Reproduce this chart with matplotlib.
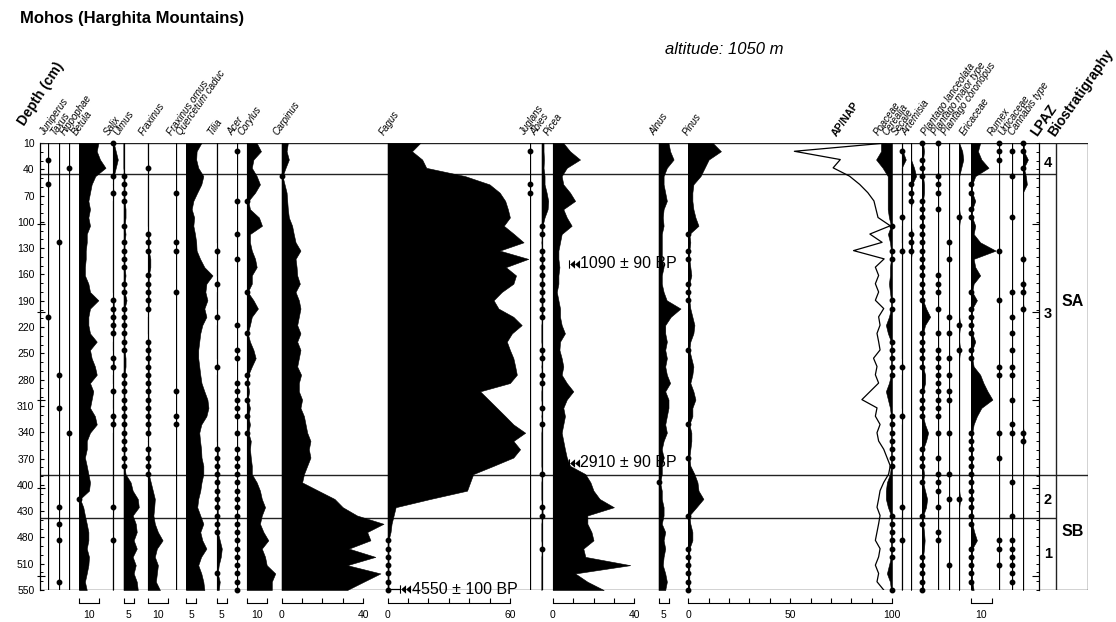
import numpy as np
import matplotlib
matplotlib.use("Agg")
import matplotlib.pyplot as plt
from matplotlib.path import Path

plt.rcParams['font.family'] = ['Liberation Sans', 'DejaVu Sans']

# ---------------- data ----------------
depths = [10, 20, 30, 40, 50, 60, 70, 80, 90, 100, 110, 120, 130, 140, 150, 160, 170, 180,
          190, 200, 210, 220, 230, 240, 250, 260, 270, 280, 290, 300, 310, 320, 330, 340,
          350, 360, 370, 380, 390, 400, 410, 420, 430, 440, 450, 460, 470, 480, 490, 500,
          510, 520, 530, 540, 550]
depth_labels = ['10', '40', '70', '100', '130', '160', '190', '220', '250', '280', '310',
                '340', '370', '400', '430', '480', '510', '550']

betula = [9.5, 8.7, 10.3, 13, 8, 6.2, 5.4, 4.6, 5.4, 4.6,
          5.4, 3.8, 3.8, 3.3, 3.3, 2.9, 2.9, 4.6, 5.4, 9.5,
          5.4, 4.6, 4.6, 5.4, 8.7, 5.4, 6.2, 7.8, 8.7, 5.4,
          7, 6.2, 5.4, 7.8, 8.7, 5.4, 3.8, 3.8, 2.9, 3.8,
          4.6, 5.4, 4.9, 0.5, 2.1, 2.9, 3.8, 4.6, 4.6, 3.8,
          4.9, 4.6, 3.8, 2.9, 3.8]
ulmus = [0, 0, 0, 0, .5, .5, .5, .5, 1, 1,
         .5, 1, .5, .5, .5, .5, 1, .5, .5, 1.5,
         .5, .5, .5, .5, .5, .5, 1, 1, .5, .5,
         .5, .5, .5, .5, .5, .5, .5, .5, .5, .5,
         1, 3.5, 4.5, 7, 7.5, 4.5, 6, 6.5, 5, 6.5,
         4.5, 6, 5, 6.5, 7]
fraxinus = [0, 0, 0, .5, 0, 0, 0, 0, 0, 0,
            0, .5, .5, .5, 1.3, 1.3, .5, .5, .5, .5,
            .5, 0, 0, 0, .5, .5, .5, .5, .5, .5,
            .5, .5, .5, .5, .5, .5, 0, .5, .5, .5,
            .5, 1.5, 2.5, 3.5, 3.2, 2.8, 3.5, 5, 7.3, 4.5,
            3.5, 5, 4.5, 4, 6]
quercetum = [7.5, 5.2, 5, 6, 8.5, 7.5, 5.5, 3.6, 2.8, 4,
             3.6, 4.4, 5, 5.2, 6.9, 9, 13, 10, 9.5, 10.5,
             9, 10, 8, 7, 6.5, 6, 6, 6.5, 7, 7.6,
             9, 10.5, 11, 10, 7.5, 6.5, 6.9, 7.4, 7.6, 8.5,
             8.5, 7.6, 7, 6, 5.5, 7, 8.5, 7, 8, 10,
             7.4, 6, 7.5, 8.5, 9]
corylus = [4.9, 7, 3.3, 2.5, 4.9, 6.5, 4.1, 0.8, 1.6, 6,
           7.5, 1.6, 1.6, 2.5, 4.1, 4.9, 2.5, 2.5, 0.5, 3.3,
           5.5, 2.5, 1.6, 0.5, 1.6, 3.3, 4.4, 2.5, 0.8, 0.5,
           1.2, 0.5, 1.6, 0.8, 1.6, 0.8, 2, 1.6, 2, 2.5,
           2.5, 4.9, 6.5, 7.4, 9, 7.4, 6.5, 8.2, 10.6, 7.4,
           9, 9.8, 14, 12.3, 12.3]
carpinus = [3.1, 2.5, 3.6, 2, 0.5, 1.5, 2.5, 2.8, 3.1, 3.6,
            5.2, 6, 6.9, 9.3, 6.9, 7.4, 7.7, 9, 6.9, 8.5,
            9.3, 8.5, 7.7, 9.3, 7.7, 9.3, 8.5, 7.7, 9.6, 8.5,
            8.5, 10.1, 9.3, 11, 11.8, 12.6, 14.2, 13.4, 14.2, 12.6,
            11, 10.1, 18, 26, 30, 37, 50, 42, 43.6, 33,
            46, 32.2, 48.5, 40.3, 32.2]
fagus = [16, 12, 17, 19, 38, 50, 55, 57.7, 59, 60,
         57, 62, 66.7, 55, 69, 58, 63, 61.7, 56, 52,
         54.4, 61.7, 65.8, 61, 58.5, 60, 61.7, 62.6, 63.4, 60,
         45.4, 49.5, 53.6, 57.7, 61.7, 67.5, 61.7, 65, 61.7, 52,
         42, 40.5, 39, 21, 4, 3, 2, 1.5, 0.5, 0.5,
         0.5, 0.5, 0.5, 0.5, 0.5]
picea = [5.2, 8.5, 13.4, 6.9, 4.4, 5.2, 8.5, 11, 5.2, 6.9,
         9.3, 4.4, 3.6, 2.8, 2.8, 3.3, 2.8, 2.8, 2, 2.8,
         3.6, 3.6, 4.4, 6, 3.6, 3.3, 4.4, 5.2, 4.4, 6.9,
         10.1, 6.9, 5.2, 6, 5.2, 4.4, 5.2, 6, 6.9, 8.5,
         16, 18.5, 20, 23, 30, 17, 17, 19, 20, 15,
         16, 38, 11, 17, 25]
alnus = [4.9, 5.7, 7.4, 4.1, 2.5, 2.5, 3.3, 4.1, 2.5, 2.1,
         2.5, 1.6, 1.6, 1.6, 1.6, 2.5, 1.6, 1.6, 2.5, 4,
         10.8, 6, 3.3, 3.3, 4.1, 3.3, 4.1, 3.3, 4.1, 5.7,
         3.3, 4.9, 4.9, 4.1, 3.3, 4.1, 2.5, 1.6, 2.5, 1.6,
         1.6, 0.8, 1.6, 1.6, 2.5, 2.5, 1.6, 3.3, 2.5, 3.3,
         2.5, 2.1, 3.3, 4.1, 3.3]
pinus = [12, 16, 10, 8, 6, 2.5, 2, 2, 2.5, 3.5,
         5, 0.5, 1, 0.5, 0.5, 1, 1.5, 0.5, 0.5, 0.5,
         1, 2, 3, 2.5, 1, 0.5, 1.5, 2.5, 2, 1,
         2.5, 3.5, 2, 2, 0.5, 1.5, 1.5, 1, 0.5, 1,
         3, 4.5, 5, 7.4, 4, 0.5, 1, 2, 2, 0.5,
         0.5, 0.5, 0.5, 0.5, 0.5]
ap_nap = [97, 52, 74.5, 71, 79, 84, 88, 91, 92, 93,
          99, 89, 95, 81, 96, 91.7, 93.3, 91.7, 93.3, 91.7,
          95.8, 93.3, 94, 92.5, 93.3, 94, 90.8, 92.5, 91.7, 93.3,
          89.2, 85.1, 92.5, 91.7, 94, 92.5, 93.3, 95.8, 97.4, 99,
          98.2, 95.8, 94, 93.3, 92.5, 94, 93.3, 92.5, 91.7, 94,
          93.3, 91.7, 93.3, 92.5, 95.8]
poaceae = [5.4, 5.4, 7.8, 4.6, 2.1, 2.1, 2.1, 2.1, 2.1, 1.5,
           0.5, 2, 1, 0.5, 0.5, 1, 1, 1.5, 1, 0.5,
           0.5, 1.5, 3, 2, 0.5, 0.5, 0.5, 0.5, 0.5, 1.5,
           3, 2, 1, 0.5, 0.5, 0.5, 0.5, 0.5, 0.5, 0.5,
           1, 2.5, 3, 3, 2, 0.5, 0.5, 0.5, 0.5, 0.5,
           0.5, 1.5, 2.5, 1, 0.5]
artemisia = [0.5, 1, 0.5, 0.5, 0.5, 1, 1, 0.5, 0.5, 0.5,
             0.5, 0.5, 0.5, 0.5, 0.5, 0.5, 0.5, 0.5, 0.5, 0.5,
             2, 4, 1.5, 0.5, 0.5, 0.5, 0.5, 0.5, 1.5, 1.5,
             0.5, 0.5, 0.5, 0.5, 1.5, 3, 2, 0.5, 0.5, 0.5,
             1, 0.5, 1.5, 2.5, 2, 0.5, 0.5, 1, 1.3, 1,
             0.5, 0.5, 0.5, 0.5, 0.5]
ericaceae = [4.4, 3.3, 5, 8.5, 2, 0.5, 0.5, 2, 0.5, 0.5,
             2, 1.2, 4.4, 12, 1.2, 2, 4.4, 1.2, 0.5, 2.8,
             0.5, 0.5, 0.5, 0.5, 2, 0.5, 0.5, 1.2, 4.4, 6,
             8, 10.4, 5, 2.8, 1.2, 0.5, 0.5, 0.5, 0.5, 0.5,
             0.5, 0.5, 0.5, 0.5, 0.5, 0.5, 0.5, 1.5, 2.8, 0.5,
             0.5, 0.5, 0.5, 0.5, 1.2]

# sparse taxa: {depth: percent}; 0.5 = trace (dot)
salix = {10: .5, 20: 1.5, 30: 2.5, 40: 1.5, 50: .5, 70: .5, 200: .5, 210: .5, 220: .5,
         230: .5, 240: .5, 270: .5, 280: .5, 310: .5, 340: .5, 350: .5, 450: .5, 490: .5}
tilia = {140: .5, 180: .5, 220: .5, 280: .5, 380: .5, 390: .5, 400: .5, 410: .5, 420: .5,
         430: .5, 440: .5, 450: .5, 460: .5, 470: .5, 480: .5, 490: 1.5, 500: 2.5, 510: 2,
         520: 1, 530: .5, 540: 1.5, 550: 1}
abies = {10: 1, 20: 1, 30: 1.2, 40: 1, 50: 1.5, 60: 1.5, 70: 2.5, 80: 3.3, 90: 3, 100: 1.5,
         110: .5, 120: .5, 140: .5, 150: .5, 160: .5, 170: .5, 180: .5, 190: .5, 200: .5,
         210: .5, 220: .5, 260: .5, 270: .5, 290: .5, 300: .5, 330: .5, 350: .5, 410: .5,
         450: .5, 460: .5, 500: .5}
cerealia = {20: .5, 30: 2, 100: .5, 140: .5, 280: .5, 340: .5, 450: .5, 490: .5}
secale = {40: 1.5, 50: 2.5, 60: .5, 70: .5, 80: .5, 120: .5, 130: .5, 140: .5}
pl_coronopus = {20: 1.5, 30: 2, 40: 1, 100: .5, 230: .5, 260: .5, 440: .5}
cannabis = {10: .5, 20: .5, 30: 2.5, 40: .5, 50: 1.5, 60: 2, 150: .5, 180: .5, 190: .5,
            210: .5, 360: .5, 370: .5}

# presence-only taxa (dots, depths in cm)
juniperus = [30, 60, 220]
taxus = [130, 290, 330, 450, 470, 490, 540]
hippophae = [40, 360]
fraxinus_ornus = [70, 130, 140, 190, 310, 340, 350]
acer = [20, 80, 120, 150, 230, 260, 270, 300, 310, 320, 330, 340, 360, 380, 390, 400, 410,
        420, 430, 440, 450, 460, 470, 480, 490, 500, 510, 520, 530, 540, 550]
juglans = [20, 60, 70]
pl_lanceolata = [10, 50, 60, 70, 90, 170, 180, 190, 210, 240, 260, 270, 280, 290, 300, 310,
                 320, 330, 340, 360, 390, 410, 420, 430, 450, 480, 490]
pl_major = [130, 150, 220, 240, 270, 290, 310, 320, 360, 410, 440, 520]
rumex = [10, 20, 30, 140, 200, 280, 290, 360, 390, 490, 500, 520]
urticaceae = [20, 50, 100, 190, 220, 240, 260, 280, 290, 320, 350, 360, 420, 460, 490, 500,
              510, 520, 530, 540]

zone_depths = [48, 411, 463]
lpaz_labels = ['4', '3', '2', '1']
lpaz_depths = [34, 216, 441, 507]
bio_labels = ['SA', 'SB']
bio_depths = [202, 479]
date_depths = [156, 396, 549]
date_labels = ['1090 \u00b1 90 BP', '2910 \u00b1 90 BP', '4550 \u00b1 100 BP']
long_tick_depths = [108, 214, 320, 427, 533]

# ---------------- layout ----------------
W, H, DPI = 1116, 622, 100
TOP, BOT = 143, 590
PX = 2.04          # pixels per percent
fig = plt.figure(figsize=(W / DPI, H / DPI), dpi=DPI)


def rect(x0, w):
    return [x0 / W, 1 - BOT / H, w / W, (BOT - TOP) / H]


def as_array(v):
    if isinstance(v, dict):
        return np.array([v.get(d, 0.0) for d in depths], float)
    return np.asarray(v, float)


# background axes in pixel x-units, depth y-units
bg = fig.add_axes(rect(40, 1048))
bg.set_xlim(40, 1088)
bg.set_ylim(550, 10)
bg.patch.set_alpha(0)
for s in ['top', 'right', 'bottom']:
    bg.spines[s].set_visible(False)
bg.spines['left'].set_linewidth(0.9)
bg.set_xticks([])
bg.set_yticks(np.linspace(10, 550, len(depth_labels)))
bg.set_yticklabels(depth_labels, fontsize=7.5)
bg.set_yticks(np.linspace(10, 550, 52), minor=True)
bg.tick_params(axis='y', which='major', direction='in', length=3, width=0.8, pad=4)
bg.tick_params(axis='y', which='minor', direction='in', length=2, width=0.7)
bg.hlines(long_tick_depths, 37, 45, color='k', lw=0.8, clip_on=False)
bg.hlines([10, 550], 40, 1088, color='#222', lw=1.0)
bg.hlines([zone_depths[0], zone_depths[2]], 40, 1056, color='#222', lw=1.0)
bg.hlines([zone_depths[1]], 40, 1088, color='#222', lw=1.0)
bg.vlines([1056, 1088], 10, 550, color='#222', lw=1.0)

# LPAZ tick axis
lp = fig.add_axes(rect(1039, 17))
lp.set_ylim(550, 10)
lp.patch.set_alpha(0)
for s in ['top', 'right', 'bottom']:
    lp.spines[s].set_visible(False)
lp.spines['left'].set_linewidth(0.9)
lp.set_xticks([])
lp.set_yticks(long_tick_depths)
lp.set_yticklabels([])
lp.set_yticks(np.linspace(10, 550, 52), minor=True)
lp.tick_params(axis='y', which='major', direction='out', length=5, width=0.8)
lp.tick_params(axis='y', which='minor', direction='out', length=2.5, width=0.7)
for lab, d in zip(lpaz_labels, lpaz_depths):
    bg.text(1048, d, lab, fontsize=10.5, fontweight='bold', ha='center', va='center')
for lab, d in zip(bio_labels, bio_depths):
    bg.text(1073, d, lab, fontsize=11.5, fontweight='bold', ha='center', va='center')


def column(x0, w, vals=None, dots=None, ticks=None, center_label=None, end_labels=None,
           invert=False, baseline=True):
    ax = fig.add_axes(rect(x0, w))
    lim = w / PX
    ax.set_xlim((lim, 0) if invert else (0, lim))
    ax.set_ylim(550, 10)
    ax.patch.set_alpha(0)
    for s in ax.spines.values():
        s.set_visible(False)
    ax.set_yticks([])
    ax.set_xticks([])
    if baseline:
        ax.axvline(0, color='k', lw=0.9, zorder=1)
    if vals is not None:
        v = as_array(vals)
        ax.fill_betweenx(depths, 0, v, facecolor='k', edgecolor='k', lw=0.4, zorder=2,
                         clip_on=False)
        tr = np.array(depths)[(v > 0) & (v < 1)]
        ax.plot(np.zeros(len(tr)), tr, 'o', ms=3.2, color='k', clip_on=False, zorder=3)
    if dots is not None:
        ax.plot(np.zeros(len(dots)), dots, 'o', ms=3.2, color='k', clip_on=False, zorder=3)
    if ticks is not None:
        sp = ax.spines['bottom']
        sp.set_visible(True)
        sp.set_position(('outward', 13 * 72 / DPI))
        sp.set_bounds(ticks[0], ticks[-1])
        sp.set_linewidth(0.8)
        ax.set_xticks(ticks)
        if end_labels is not None:
            ax.set_xticklabels([end_labels.get(t, '') for t in ticks], fontsize=7.5)
        else:
            ax.set_xticklabels([''] * len(ticks))
        ax.tick_params(axis='x', which='major', direction='in', length=3.5, width=0.8, pad=5)
        if center_label is not None:
            ax.set_xticks([(ticks[0] + ticks[-1]) / 2], minor=True)
            ax.set_xticklabels([center_label], minor=True, fontsize=7.5)
            ax.tick_params(axis='x', which='minor', length=0, pad=5)
    return ax


column(47.7, 10, dots=juniperus)
column(59, 10, dots=taxus)
column(69, 10, dots=hippophae)
column(79, 33, vals=betula, ticks=[0, 10], center_label='10')
column(112.7, 10, vals=salix)
column(123.5, 24, vals=ulmus, ticks=[0, 5], center_label='5')
column(147.7, 28, vals=fraxinus, ticks=[0, 10], center_label='10')
column(176, 10, dots=fraxinus_ornus)
column(186, 30, vals=quercetum, ticks=[0, 5], center_label='5')
column(216.7, 20, vals=tilia, ticks=[0, 5], center_label='5')
column(236.7, 10, dots=acer)
column(246.7, 34, vals=corylus, ticks=[0, 10], center_label='10')
column(281.5, 105, vals=carpinus, ticks=[0, 10, 20, 30, 40], end_labels={0: '0', 40: '40'})
column(387.5, 142, vals=fagus, ticks=[0, 10, 20, 30, 40, 50, 60], end_labels={0: '0', 60: '60'})
column(530, 10, dots=juglans)
column(541.5, 11, vals=abies)
column(552.7, 105, vals=picea, ticks=[0, 10, 20, 30, 40], end_labels={0: '0', 40: '40'})
column(658.5, 30, vals=alnus, ticks=[0, 5], center_label='5')
column(688.3, 40, vals=pinus)
apx = column(688.3, 204, ticks=list(range(0, 101, 10)),
             end_labels={0: '0', 50: '50', 100: '100'}, baseline=False)
apx.plot(ap_nap, depths, color='k', lw=0.9, zorder=3)
column(862, 30, vals=poaceae, invert=True)
column(901.7, 10, vals=cerealia)
column(911, 11, vals=secale)
column(922, 16, vals=artemisia)
column(938.3, 10, dots=pl_lanceolata)
column(948.6, 10, dots=pl_major)
column(959.2, 10, vals=pl_coronopus)
column(971.2, 27, vals=ericaceae, ticks=[0, 10], center_label='10')
column(998.7, 10, dots=rumex)
column(1012, 10, dots=urticaceae)
column(1022.8, 12, vals=cannabis)

# radiocarbon dates: "skip-back" arrow symbol (no installed glyph) drawn as a marker shape
MOVE, LINE, CLOSE = Path.MOVETO, Path.LINETO, Path.CLOSEPOLY
arrow_marker = Path(
    [(-1.0, -0.75), (-0.8, -0.75), (-0.8, 0.75), (-1.0, 0.75), (-1.0, -0.75),
     (-0.8, 0.0), (0.1, 0.75), (0.1, -0.75), (-0.8, 0.0),
     (0.1, 0.0), (1.0, 0.75), (1.0, -0.75), (0.1, 0.0)],
    [MOVE, LINE, LINE, LINE, CLOSE, MOVE, LINE, LINE, CLOSE, MOVE, LINE, LINE, CLOSE])
date_arrow_x = [574, 574, 405]
for d, lab, xa in zip(date_depths, date_labels, date_arrow_x):
    bg.plot([xa], [d], marker=arrow_marker, ms=8, color='k', mew=0, clip_on=False)
    bg.text(xa + 6.5, d, lab, fontsize=11.5, ha='left', va='center')
bg.plot([389, 399], [date_depths[2], date_depths[2]], color='k', lw=0.9, clip_on=False)

# ---------------- header labels ----------------
headers = [
    (46, 'Juniperus'), (57, 'Taxus'), (67, 'Hippophae'), (78, 'Betula'), (110, 'Salix'),
    (120, 'Ulmus'), (145, 'Fraxinus'), (174, 'Fraxinus ornus'), (183, 'Quercetum caduc'),
    (214, 'Tilia'), (234, 'Acer'), (244, 'Corylus'), (279, 'Carpinus'), (386, 'Fagus'),
    (526, 'Juglans'), (537, 'Abies'), (550, 'Picea'), (656, 'Alnus'), (689, 'Pinus'),
    (880, 'Poaceae'), (889, 'Cerealia'), (898, 'Secale'), (908, 'Artemisia'),
    (928, 'Plantago lanceolata'), (938, 'Plantago major type'), (948, 'Plantago coronopus'),
    (966, 'Ericaceae'), (994, 'Rumex'), (1005, 'Urticaceae'), (1015, 'Cannabis type'),
]
for x, lab in headers:
    fig.text(x / W, 1 - 137 / H, lab, rotation=55, rotation_mode='anchor', ha='left',
             va='bottom', fontsize=7, style='italic')
fig.text(838 / W, 1 - 138 / H, 'AP/NAP', rotation=55, rotation_mode='anchor', ha='left',
         va='bottom', fontsize=7.5, fontweight='bold')
fig.text(1040 / W, 1 - 139 / H, 'LPAZ', rotation=55, rotation_mode='anchor', ha='left',
         va='bottom', fontsize=10, fontweight='bold')
fig.text(1057 / W, 1 - 139 / H, 'Biostratigraphy', rotation=55, rotation_mode='anchor',
         ha='left', va='bottom', fontsize=10, fontweight='bold')
fig.text(27 / W, 1 - 128 / H, 'Depth (cm)', rotation=57, rotation_mode='anchor', ha='left',
         va='bottom', fontsize=10, fontweight='bold')

fig.text(20 / W, 1 - 18 / H, 'Mohos (Harghita Mountains)', fontsize=12,
         fontweight='bold', ha='left', va='center')
fig.text(665 / W, 1 - 50 / H, 'altitude: 1050 m', fontsize=12, style='italic',
         ha='left', va='center')

fig.savefig('out.png', dpi=DPI)
